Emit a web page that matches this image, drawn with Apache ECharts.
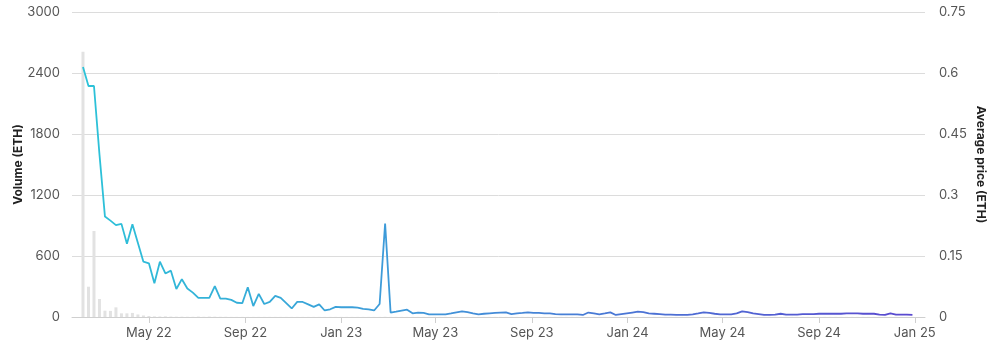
<!DOCTYPE html>
<html>
<head>
<meta charset="utf-8">
<script src="https://cdn.jsdelivr.net/npm/echarts@6/dist/echarts.min.js"></script>
<style>
html,body{margin:0;padding:0;background:#fff;}
#chart{width:1000px;height:357px;}
</style>
</head>
<body>
<div id="chart"></div>
<script>
// Weekly series starting on this date
const startDate = '2022-02-06';

const volume = [
  2610, 298, 846, 177, 62, 60, 95, 36, 36, 40,
  25, 15, 10, 6, 5, 6, 4, 3, 3, 2,
  2, 4, 2, 4, 3, 2, 2, 1, 1, 1,
  1, 1, 1, 1, 1, 1, 1, 1, 1, 1,
  1, 1, 1, 1, 1, 1, 1, 1, 1, 1,
  1, 1, 1, 1, 1, 2, 1, 1, 1, 1,
  1, 1, 1, 1, 1, 1, 1, 1, 1, 1,
  1, 1, 1, 1, 1, 1, 1, 1, 1, 1,
  1, 1, 1, 1, 1, 1, 1, 1, 1, 1,
  1, 1, 1, 1, 1, 1, 1, 1, 1, 1,
  1, 1, 1, 1, 1, 1, 1, 1, 1, 1,
  1, 1, 1, 1, 1, 1, 1, 1, 1, 1,
  1, 1, 1, 1, 1, 1, 1, 1, 1, 1,
  1, 1, 1, 1, 1, 1, 1, 1, 1, 1,
  1, 1, 1, 1, 1, 1, 1, 1, 1, 1,
  1, 1
];

const avgPrice = [
  0.615, 0.568, 0.568, 0.40, 0.247, 0.237, 0.226, 0.229, 0.18, 0.228,
  0.182, 0.136, 0.132, 0.083, 0.136, 0.107, 0.114, 0.069, 0.093, 0.07,
  0.060, 0.047, 0.047, 0.047, 0.076, 0.045, 0.045, 0.042, 0.035, 0.034,
  0.073, 0.027, 0.057, 0.032, 0.037, 0.052, 0.047, 0.034, 0.021, 0.037,
  0.037, 0.031, 0.025, 0.031, 0.016, 0.019, 0.025, 0.024, 0.024, 0.024,
  0.023, 0.020, 0.019, 0.016, 0.032, 0.230, 0.011, 0.013, 0.0156, 0.018,
  0.009, 0.0106, 0.010, 0.0066, 0.0066, 0.0066, 0.0066, 0.009, 0.0115, 0.014,
  0.012, 0.009, 0.0066, 0.008, 0.009, 0.010, 0.011, 0.0115, 0.007, 0.009,
  0.010, 0.0115, 0.010, 0.010, 0.009, 0.009, 0.007, 0.0066, 0.0066, 0.0066,
  0.0066, 0.005, 0.011, 0.009, 0.0066, 0.009, 0.0115, 0.005, 0.007, 0.009,
  0.011, 0.013, 0.012, 0.009, 0.008, 0.007, 0.006, 0.006, 0.005, 0.005,
  0.005, 0.0066, 0.009, 0.0115, 0.010, 0.008, 0.0066, 0.0066, 0.0066, 0.009,
  0.014, 0.012, 0.009, 0.007, 0.005, 0.005, 0.006, 0.008, 0.006, 0.006,
  0.006, 0.007, 0.007, 0.007, 0.008, 0.008, 0.008, 0.008, 0.008, 0.009,
  0.009, 0.009, 0.008, 0.008, 0.008, 0.006, 0.005, 0.009, 0.006, 0.006,
  0.006, 0.005
];

const tickDates = ['2022-05-01','2022-09-01','2023-01-01','2023-05-01','2023-09-01','2024-01-01','2024-05-01','2024-09-01','2025-01-01'];
const tickLabels = ['May 22','Sep 22','Jan 23','May 23','Sep 23','Jan 24','May 24','Sep 24','Jan 25'];
const volumeTicks = ['0','600','1200','1800','2400','3000'];
const priceTicks = ['0','0.15','0.3','0.45','0.6','0.75'];

const DAY = 86400000;
const t0 = Date.parse(startDate + 'T00:00:00Z');
const dates = avgPrice.map((_, i) => t0 + i * 7 * DAY);
const tickTs = tickDates.map(d => Date.parse(d + 'T00:00:00Z'));
const labelMap = {};
tickTs.forEach((t, i) => { labelMap[t] = tickLabels[i]; });

const chart = echarts.init(document.getElementById('chart'), null, {renderer: 'canvas'});
const font = 'Inter, "Noto Sans", sans-serif';

chart.setOption({
  animation: false,
  backgroundColor: '#fff',
  grid: {left: 72, right: 75, top: 12, bottom: 40, containLabel: false, outerBoundsMode: 'none'},
  xAxis: {
    type: 'value',
    min: Date.parse('2022-01-23T00:00:00Z'),
    max: Date.parse('2025-01-14T00:00:00Z'),
    axisLine: {show: true, lineStyle: {color: '#cfcfcf', width: 1}},
    axisTick: {show: true, customValues: tickTs, length: 6, lineStyle: {color: '#cfcfcf'}},
    axisLabel: {
      customValues: tickTs,
      formatter: v => labelMap[v] || '',
      color: '#555', fontSize: 13, fontFamily: font, margin: 10
    },
    splitLine: {show: false}
  },
  yAxis: [
    {
      type: 'value', min: 0, max: 3000, interval: 600,
      name: 'Volume (ETH)', nameLocation: 'middle', nameGap: 48, nameMoveOverlap: false,
      nameTextStyle: {color: '#222', fontSize: 12, fontWeight: 'bold', fontFamily: font},
      axisLine: {show: false}, axisTick: {show: false},
      axisLabel: {color: '#555', fontSize: 13, fontFamily: font, margin: 12,
        formatter: v => volumeTicks[Math.round(v / 600)]},
      splitLine: {lineStyle: {color: '#dcdcdc', width: 1}}
    },
    {
      type: 'value', min: 0, max: 0.75, interval: 0.15, position: 'right',
      name: 'Average price (ETH)', nameLocation: 'middle', nameGap: 50, nameRotate: -90, nameMoveOverlap: false,
      nameTextStyle: {color: '#222', fontSize: 12, fontWeight: 'bold', fontFamily: font},
      axisLine: {show: false}, axisTick: {show: false},
      axisLabel: {color: '#555', fontSize: 13, fontFamily: font, margin: 14,
        formatter: v => priceTicks[Math.round(v / 0.15)]},
      splitLine: {show: false}
    }
  ],
  series: [
    {
      name: 'Volume', type: 'bar', yAxisIndex: 0, barWidth: 3,
      itemStyle: {color: '#e2e2e2'},
      data: dates.map((d, i) => [d, volume[i]])
    },
    {
      name: 'Average price', type: 'line', yAxisIndex: 1, showSymbol: false, symbol: 'none',
      lineStyle: {
        width: 1.8,
        color: new echarts.graphic.LinearGradient(0, 0, 1, 0, [
          {offset: 0, color: '#2cc3d8'},
          {offset: 0.4, color: '#3f97d9'},
          {offset: 1, color: '#5a48cf'}
        ])
      },
      data: dates.map((d, i) => [d, avgPrice[i]])
    }
  ]
});
</script>
</body>
</html>
